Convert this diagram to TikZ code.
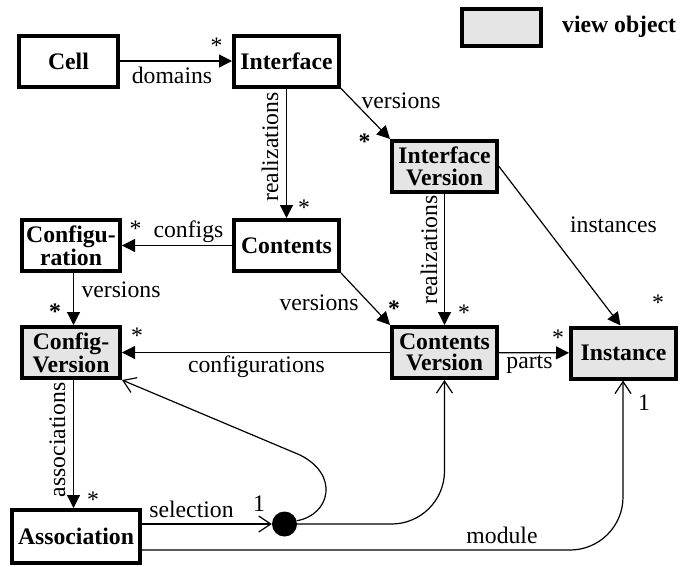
\documentclass[tikz,border=0pt]{standalone}
\usepackage{fontspec}
\setmainfont{Liberation Serif}
\usetikzlibrary{arrows.meta,calc}

\begin{document}
\begin{tikzpicture}[x=1pt,y=-1pt,
  box/.style={draw, line width=4pt, minimum width=105pt, minimum height=51pt,
    inner sep=0pt, align=center, font=\bfseries\fontsize{23.7}{21.5}\selectfont},
  view/.style={box, fill=black!10},
  lbl/.style={inner sep=0pt, anchor=base, font=\fontsize{23.7}{22}\selectfont},
  lblb/.style={lbl, font=\bfseries\fontsize{23.7}{22}\selectfont},
  conn/.style={line width=1.2pt},
  solidtip/.style={-{Triangle[length=13pt,width=13pt]}},
  opentip/.style={-{Straight Barb[length=12pt,width=16pt]}},
  joint/.style={circle, fill=black, minimum size=25pt, inner sep=0pt}]
\useasboundingbox (0,0) rectangle (690,566);

% classes
\node[box, minimum width=99pt] (cell) at (68.5,61) {Cell};
\node[box] (iface) at (286.5,61) {Interface};
\node[view] (ifver) at (444.5,166.5) {Interface\\Version};
\node[box] (contents) at (286.5,245.5) {Contents};
\node[box, minimum width=98pt] (config) at (71,245.5) {Configu-\\ration};
\node[view, minimum width=98pt] (cfgver) at (71,352.5) {Config-\\Version};
\node[view] (cntver) at (444.5,352.5) {Contents\\Version};
\node[view] (inst) at (623.5,353) {Instance};
\node[box, minimum width=128pt, minimum height=53pt] (assoc) at (76,536.5) {Association};
\node[joint] (dot) at (284.5,524) {};

% legend
\node[view, minimum width=79pt, minimum height=37pt] (legend) at (501.5,27.5) {};
\node[lblb, anchor=base west] (legendtxt) at (562,32) {view object};

% associations with filled heads
\draw[conn, solidtip] (cell) -- (iface);
\draw[conn, solidtip] (iface.south east) -- (ifver.north west);
\draw[conn, solidtip] (iface) -- (contents);
\draw[conn, solidtip] (contents) -- (config);
\draw[conn, solidtip] ([xshift=2.5pt]config.south) -- ([xshift=2.5pt]cfgver.north);
\draw[conn, solidtip] (contents.south east) -- (cntver.north west);
\draw[conn, solidtip] (ifver) -- (cntver);
\draw[conn, solidtip] (ifver.east) -- ([xshift=-3pt]inst.north);
\draw[conn, solidtip] (cntver) -- (cfgver);
\draw[conn, solidtip] (cntver) -- (inst);
\draw[conn, solidtip] ([xshift=2.5pt]cfgver.south) -- ([xshift=2.5pt]cfgver.south |- assoc.north);

% selection and module references
\draw[conn, opentip] ([yshift=12.5pt]assoc.east) -- (dot.west);
\draw[conn, opentip, rounded corners=53pt] (dot.east) -| (cntver.south);
\draw[conn, opentip] (dot.15) .. controls (330,515) and (340,475) .. (300,455) -- (cfgver.south east);
\draw[conn, opentip, rounded corners=53pt] ([yshift=-13.5pt]assoc.east) -| ([xshift=-0.5pt]inst.south);

% role names
\node[lbl] (tDomains) at (172,83) {domains};
\node[lbl] (tVersA) at (401,108) {versions};
\node[lbl, rotate=90] (tRealA) at (278,147) {realizations};
\node[lbl] (tConfigs) at (188.5,237) {configs};
\node[lbl] (tVersB) at (121,297) {versions};
\node[lbl] (tVersC) at (319,310) {versions};
\node[lbl, rotate=90] (tRealB) at (437,250) {realizations};
\node[lbl] (tInst) at (613.5,232) {instances};
\node[lbl] (tParts) at (529.5,368) {parts};
\node[lbl] (tConfs) at (256.5,372) {configurations};
\node[lbl, rotate=90] (tAssoc) at (65,440) {associations};
\node[lbl] (tSel) at (191.5,517) {selection};
\node[lbl] (tModule) at (502,543) {module};
\node[lbl] (tOneA) at (259,511) {1};
\node[lbl] (tOneB) at (644,410) {1};

% multiplicities
\node[lbl] (mDomains) at (216.5,53) {*};
\node[lblb] (mVersA) at (364.5,149.5) {*};
\node[lbl] (mRealA) at (304,215) {*};
\node[lbl] (mConfigs) at (135.5,236.5) {*};
\node[lblb] (mVersB) at (55,319) {*};
\node[lblb] (mVersC) at (394,316) {*};
\node[lbl] (mRealB) at (464,320) {*};
\node[lbl] (mInst) at (658,310) {*};
\node[lbl] (mParts) at (558,345) {*};
\node[lbl] (mConfs) at (137,343) {*};
\node[lbl] (mAssoc) at (93,507) {*};
\end{tikzpicture}
\end{document}
